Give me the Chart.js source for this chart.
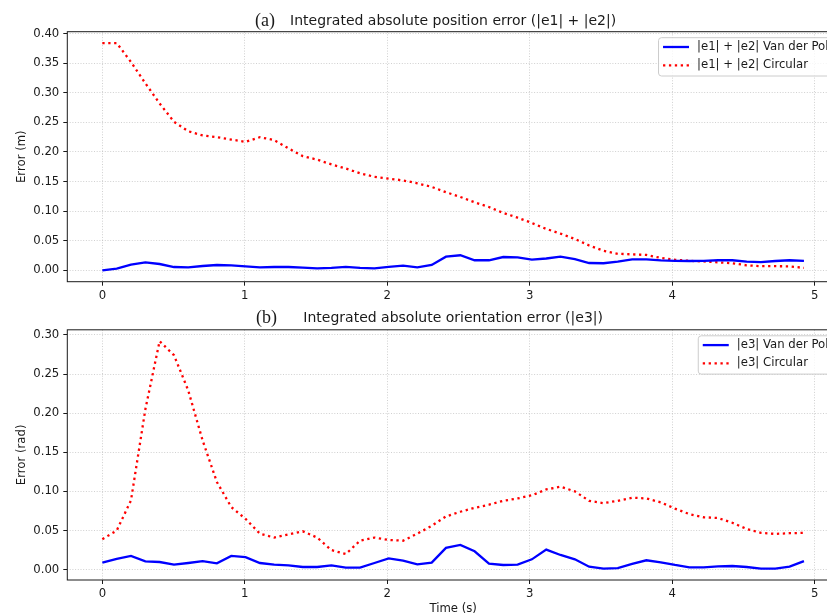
<!DOCTYPE html>
<html>
<head>
<meta charset="utf-8">
<script src="https://cdn.jsdelivr.net/npm/chart.js@4.4.1/dist/chart.umd.min.js"></script>
<style>
  html, body { margin: 0; padding: 0; background: #fff; overflow: hidden; width: 827px; height: 616px; }
  .panel { position: absolute; left: 0; width: 850px; }
  #topPanel { top: 0; height: 310px; }
  #bottomPanel { top: 300px; height: 316px; }
</style>
</head>
<body>
<div class="panel" id="topPanel"><canvas id="posChart"></canvas></div>
<div class="panel" id="bottomPanel"><canvas id="oriChart"></canvas></div>
<script>
// sample times (s)
const times = [0, 0.101, 0.201, 0.302, 0.402, 0.503, 0.603, 0.704, 0.804, 0.905,
  1.005, 1.106, 1.206, 1.307, 1.407, 1.508, 1.608, 1.709, 1.809, 1.910,
  2.010, 2.111, 2.211, 2.312, 2.412, 2.513, 2.613, 2.714, 2.814, 2.915,
  3.015, 3.116, 3.216, 3.317, 3.417, 3.518, 3.618, 3.719, 3.819, 3.920,
  4.020, 4.121, 4.221, 4.322, 4.422, 4.523, 4.623, 4.724, 4.824, 4.925];

// (a) |e1| + |e2|
const posVanDerPol = [0, 0.003, 0.0095, 0.0135, 0.0107, 0.0056, 0.005, 0.0073, 0.009, 0.0084,
  0.0068, 0.005, 0.0056, 0.0056, 0.0045, 0.0034, 0.004, 0.006, 0.004, 0.0034,
  0.006, 0.0079, 0.005, 0.009, 0.023, 0.0255, 0.017, 0.017, 0.0225, 0.022,
  0.018, 0.020, 0.023, 0.019, 0.0124, 0.012, 0.0146, 0.0186, 0.0186, 0.017,
  0.016, 0.0158, 0.016, 0.017, 0.017, 0.0146, 0.014, 0.0158, 0.017, 0.016];
const posCircular = [0.384, 0.384, 0.352, 0.316, 0.282, 0.251, 0.235, 0.228, 0.225, 0.221,
  0.217, 0.225, 0.220, 0.206, 0.193, 0.187, 0.179, 0.172, 0.164, 0.158,
  0.155, 0.152, 0.147, 0.141, 0.132, 0.124, 0.115, 0.107, 0.097, 0.089,
  0.080, 0.070, 0.062, 0.053, 0.042, 0.033, 0.028, 0.027, 0.026, 0.021,
  0.018, 0.016, 0.015, 0.0135, 0.012, 0.0085, 0.007, 0.007, 0.0068, 0.004];

// (b) |e3|
const oriVanDerPol = [0.009, 0.0137, 0.0175, 0.0107, 0.0098, 0.0064, 0.0085, 0.011, 0.0081, 0.0175,
  0.016, 0.0085, 0.0064, 0.0056, 0.0034, 0.0034, 0.0056, 0.0026, 0.0026, 0.0085,
  0.0145, 0.0115, 0.0068, 0.009, 0.0278, 0.0316, 0.0235, 0.0077, 0.006, 0.0064,
  0.0132, 0.0256, 0.0188, 0.0132, 0.0038, 0.0013, 0.0021, 0.0073, 0.012, 0.0094,
  0.006, 0.003, 0.003, 0.0043, 0.0047, 0.0034, 0.0013, 0.0013, 0.0038, 0.011];
const oriCircular = [0.039, 0.05, 0.0885, 0.205, 0.292, 0.274, 0.229, 0.165, 0.112, 0.080,
  0.065, 0.046, 0.041, 0.045, 0.049, 0.041, 0.025, 0.020, 0.037, 0.041,
  0.038, 0.037, 0.046, 0.056, 0.068, 0.074, 0.079, 0.083, 0.088, 0.091,
  0.095, 0.1025, 0.106, 0.100, 0.088, 0.085, 0.088, 0.092, 0.091, 0.086,
  0.078, 0.071, 0.067, 0.066, 0.060, 0.052, 0.047, 0.0457, 0.0466, 0.047];

const timeTicks = [0, 1, 2, 3, 4, 5];
const posTicks = [0, 0.05, 0.10, 0.15, 0.20, 0.25, 0.30, 0.35, 0.40];
const oriTicks = [0, 0.05, 0.10, 0.15, 0.20, 0.25, 0.30];

const SANS = '"DejaVu Sans", sans-serif';
const SERIF = '"Liberation Serif", "DejaVu Serif", serif';
const FS = 11.7;

// box, title and legend like the matplotlib figure
const framePlugin = {
  id: 'frame',
  afterDraw(chart, args, opts) {
    const ctx = chart.ctx;
    const a = chart.chartArea;
    ctx.save();
    ctx.strokeStyle = '#1a1a1a';
    ctx.lineWidth = 1;
    ctx.setLineDash([]);
    ctx.strokeRect(a.left, a.top, a.right - a.left, a.bottom - a.top);

    // title
    ctx.fillStyle = '#1a1a1a';
    ctx.textBaseline = 'alphabetic';
    ctx.textAlign = 'left';
    ctx.font = '18px ' + SERIF;
    ctx.fillText(opts.label, opts.labelX, opts.baseline + 1);
    ctx.textAlign = 'center';
    ctx.font = '14px ' + SANS;
    ctx.fillText(opts.text, (a.left + a.right) / 2, opts.baseline);

    // legend
    ctx.font = FS + 'px ' + SANS;
    const sets = chart.data.datasets;
    let w = 0;
    sets.forEach(d => { w = Math.max(w, ctx.measureText(d.label).width); });
    const right = a.right - 5.5;
    const left = right - (4.5 + 26 + 8 + w + 5);
    const top = a.top + 6;
    const h = 38.3;
    ctx.beginPath();
    ctx.roundRect(left, top, right - left, h, 3);
    ctx.fillStyle = 'rgba(255,255,255,0.8)';
    ctx.fill();
    ctx.strokeStyle = '#cccccc';
    ctx.lineWidth = 1;
    ctx.stroke();
    sets.forEach((d, i) => {
      const y = top + 9.3 + i * 18.3;
      ctx.beginPath();
      ctx.strokeStyle = d.borderColor;
      ctx.lineWidth = d.borderWidth;
      ctx.setLineDash(d.borderDash || []);
      ctx.moveTo(left + 4.5, y);
      ctx.lineTo(left + 30.5, y);
      ctx.stroke();
      ctx.setLineDash([]);
      ctx.fillStyle = '#1a1a1a';
      ctx.textAlign = 'left';
      ctx.textBaseline = 'middle';
      ctx.fillText(d.label, left + 38.5, y);
    });
    ctx.restore();
  }
};

function makeChart(id, cfg) {
  const toPoints = vals => vals.map((v, i) => ({x: times[i], y: v}));
  return new Chart(document.getElementById(id), {
    type: 'line',
    data: {
      datasets: [{
        label: cfg.names[0],
        data: toPoints(cfg.vdp),
        borderColor: '#0000ff',
        borderWidth: 2.3,
        pointRadius: 0,
        tension: 0,
        fill: false
      }, {
        label: cfg.names[1],
        data: toPoints(cfg.circ),
        borderColor: '#ff0000',
        borderWidth: 2.3,
        borderDash: [2.3, 3.6],
        pointRadius: 0,
        tension: 0,
        fill: false
      }]
    },
    options: {
      responsive: true,
      maintainAspectRatio: false,
      animation: false,
      layout: { padding: { top: cfg.padTop, right: 11, left: 0, bottom: 0 } },
      plugins: {
        legend: { display: false },
        tooltip: { enabled: false },
        frame: cfg.frame
      },
      scales: {
        x: {
          type: 'linear',
          min: -0.246,
          max: 5.171,
          afterBuildTicks: s => { s.ticks = timeTicks.map(v => ({value: v})); },
          afterFit: s => { s.height = cfg.xHeight; },
          ticks: {
            font: { family: SANS, size: FS },
            color: '#1a1a1a',
            padding: 3,
            maxRotation: 0,
            callback: v => String(v)
          },
          grid: {
            color: 'rgba(176,176,176,0.75)',
            lineWidth: 0.8,
            tickLength: 4,
            tickColor: '#1a1a1a',
            tickWidth: 1,
            tickBorderDash: []
          },
          border: { display: false, dash: [1, 1.7] },
          title: {
            display: cfg.xTitle !== '',
            text: cfg.xTitle,
            font: { family: SANS, size: FS },
            color: '#1a1a1a',
            padding: 0
          }
        },
        y: {
          min: cfg.yMin,
          max: cfg.yMax,
          afterBuildTicks: s => { s.ticks = cfg.yTicks.map(v => ({value: v})); },
          afterFit: s => { s.width = 67.3; },
          ticks: {
            font: { family: SANS, size: FS },
            color: '#1a1a1a',
            padding: 4,
            callback: v => v.toFixed(2)
          },
          grid: {
            color: 'rgba(176,176,176,0.75)',
            lineWidth: 0.8,
            tickLength: 4,
            tickColor: '#1a1a1a',
            tickWidth: 1,
            tickBorderDash: []
          },
          border: { display: false, dash: [1, 1.7] },
          title: {
            display: true,
            text: cfg.yTitle,
            font: { family: SANS, size: FS },
            color: '#1a1a1a',
            padding: { top: 15, bottom: 0 }
          }
        }
      }
    },
    plugins: [framePlugin]
  });
}

makeChart('posChart', {
  names: ['|e1| + |e2| Van der Pol', '|e1| + |e2| Circular'],
  vdp: posVanDerPol,
  circ: posCircular,
  yMin: -0.0192,
  yMax: 0.4032,
  yTicks: posTicks,
  yTitle: 'Error (m)',
  xTitle: '',
  padTop: 31.7,
  xHeight: 28.3,
  frame: { label: '(a)', labelX: 255, text: 'Integrated absolute position error (|e1| + |e2|)', baseline: 25 }
});

makeChart('oriChart', {
  names: ['|e3| Van der Pol', '|e3| Circular'],
  vdp: oriVanDerPol,
  circ: oriCircular,
  yMin: -0.0132,
  yMax: 0.3065,
  yTicks: oriTicks,
  yTitle: 'Error (rad)',
  xTitle: 'Time (s)',
  padTop: 29.8,
  xHeight: 36,
  frame: { label: '(b)', labelX: 256, text: 'Integrated absolute orientation error (|e3|)', baseline: 22 }
});
</script>
</body>
</html>
